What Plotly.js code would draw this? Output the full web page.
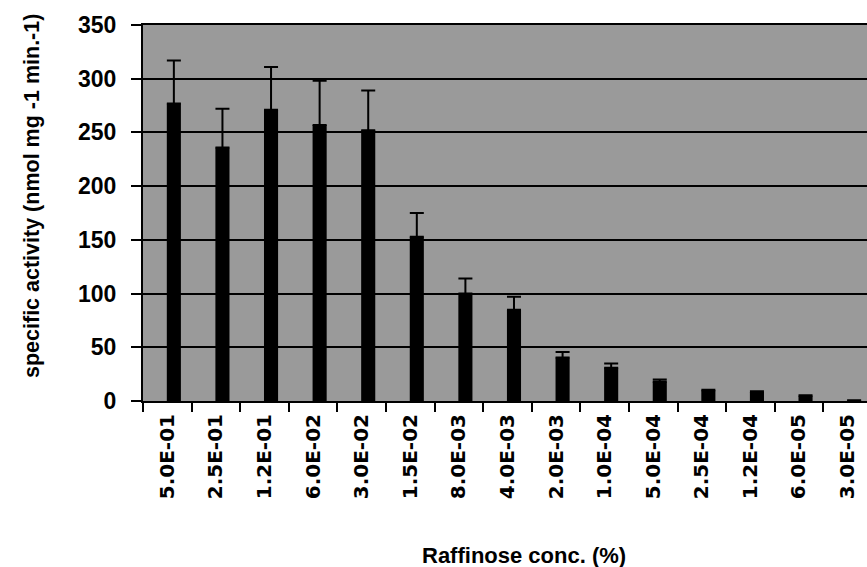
<!DOCTYPE html>
<html>
<head>
<meta charset="utf-8">
<script src="https://cdn.plot.ly/plotly-3.0.1.min.js"></script>
<style>html,body{margin:0;padding:0;background:#fff;}#chart{width:867px;height:567px;}</style>
</head>
<body>
<div id="chart"></div>
<script>
var categories = ["5.0E-01","2.5E-01","1.2E-01","6.0E-02","3.0E-02","1.5E-02","8.0E-03","4.0E-03","2.0E-03","1.0E-04","5.0E-04","2.5E-04","1.2E-04","6.0E-05","3.0E-05"];
var activity = [277, 236, 271, 257, 252, 153, 100, 85, 40.5, 31, 18, 10, 8.5, 5, 0.5];
var errorUp = [40, 36, 40, 41, 37, 22, 14, 12, 5, 4, 2, 0.5, 0.5, 0.3, 0.2];
var yTicks = [0, 50, 100, 150, 200, 250, 300, 350];
var xTitle = "Raffinose conc. (%)";
var yTitle = "specific activity (nmol mg -1 min.-1)";

var font = "Liberation Sans, Arial, sans-serif";

var trace = {
  type: "bar",
  x: categories,
  y: activity,
  marker: {color: "#000000", line: {width: 0}},
  width: 0.29,
  offset: -0.01,
  error_y: {type: "data", symmetric: false, array: errorUp, arrayminus: errorUp.map(function(){return 0;}), color: "#000000", thickness: 2, width: 7},
  hoverinfo: "x+y"
};

var layout = {
  width: 867, height: 567,
  margin: {l: 143, r: 0, t: 25, b: 166, pad: 0},
  paper_bgcolor: "#ffffff",
  plot_bgcolor: "#9a9a9a",
  showlegend: false,
  font: {family: font, color: "#000"},
  xaxis: {
    type: "category",
    range: [-0.5, 14.4],
    tickson: "boundaries",
    ticks: "outside", ticklen: 9, tickwidth: 2, tickcolor: "#000",
    showline: true, linecolor: "#000", linewidth: 2, mirror: true,
    showgrid: false, zeroline: false,
    tickangle: -90,
    ticklabelstandoff: 3,
    tickfont: {family: "DejaVu Sans, sans-serif", size: 20, color: "#000", weight: "bold"}
  },
  yaxis: {
    range: [0, 350],
    tickvals: yTicks,
    ticktext: yTicks.map(String),
    ticks: "outside", ticklen: 10, tickwidth: 2, tickcolor: "#000",
    showline: true, linecolor: "#000", linewidth: 2,
    showgrid: true, gridcolor: "#000", gridwidth: 2,
    zeroline: false,
    ticklabelstandoff: 10,
    tickfont: {family: font, size: 23, color: "#000", weight: "bold"}
  },
  annotations: [
    {text: xTitle, xref: "paper", yref: "paper", x: (524 - 143) / 724, y: -(555 - 401) / 376,
     xanchor: "center", yanchor: "middle", showarrow: false,
     font: {family: font, size: 22, color: "#000", weight: "bold"}},
    {text: yTitle, xref: "paper", yref: "paper", x: (32 - 143) / 724, y: (401 - 196) / 376,
     xanchor: "center", yanchor: "middle", textangle: -90, showarrow: false,
     font: {family: font, size: 21.5, color: "#000", weight: "bold"}}
  ]
};

Plotly.newPlot("chart", [trace], layout, {displayModeBar: false, staticPlot: true});
</script>
</body>
</html>
